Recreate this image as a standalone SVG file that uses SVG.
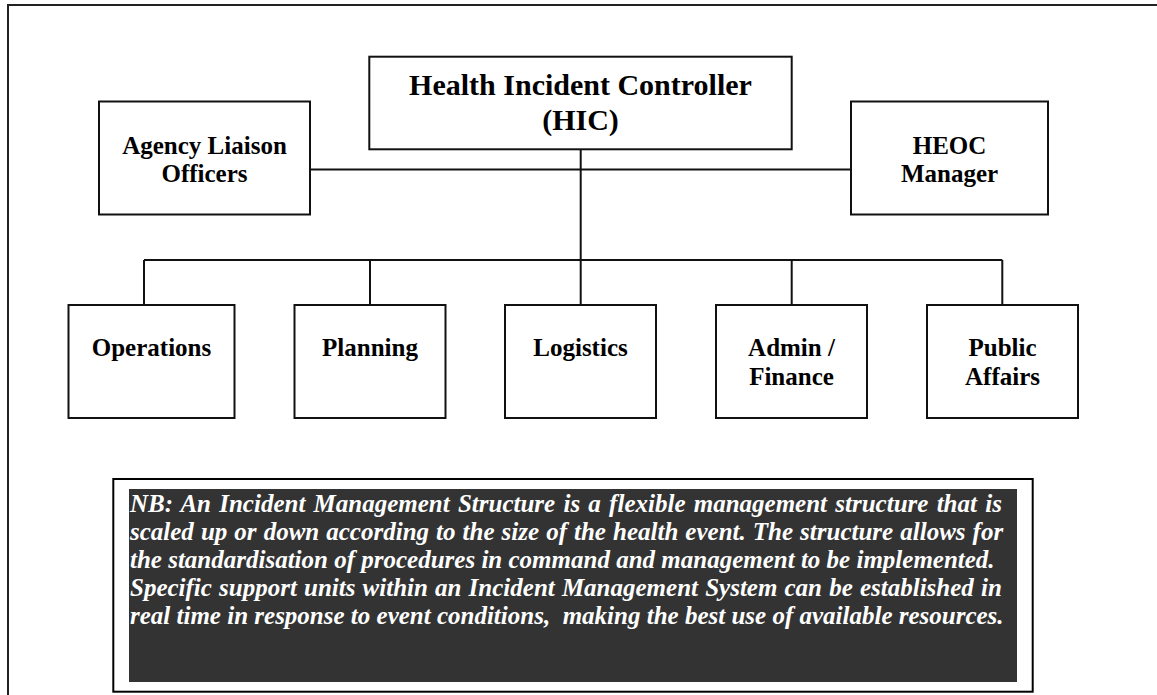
<svg xmlns="http://www.w3.org/2000/svg" width="1157" height="695" viewBox="0 0 1157 695">
<style>
.box{fill:#fff;stroke:#111;stroke-width:2}
.lbl{font-family:"Liberation Serif","Times New Roman",serif;font-weight:bold;font-size:25px;fill:#000;text-anchor:middle}
.big{font-size:30px}
.conn{stroke:#111;stroke-width:2;fill:none}
.nb{font-family:"Liberation Serif","Times New Roman",serif;font-weight:bold;font-style:italic;font-size:25px;fill:#fff}
</style>
<rect x="0" y="0" width="1157" height="695" fill="#fff"/>
<rect x="8" y="5" width="1170" height="710" fill="none" stroke="#222" stroke-width="2"/>
<g id="connectors">
<path class="conn" d="M310 169.5H851"/>
<path class="conn" d="M580.7 149V305"/>
<path class="conn" d="M144 260H1002.3"/>
<path class="conn" d="M144 260V305M370 260V305M791.7 260V305M1002.3 260V305"/>
</g>
<g id="hic">
<rect class="box" x="369.3" y="56.7" width="422.4" height="92.6"/>
<text class="lbl big" x="580.5" y="95">Health Incident Controller</text>
<text class="lbl big" x="580.5" y="130">(HIC)</text>
</g>
<g id="agency">
<rect class="box" x="99" y="101.5" width="211" height="113"/>
<text class="lbl" x="204.5" y="153.5">Agency Liaison</text>
<text class="lbl" x="204.5" y="182">Officers</text>
</g>
<g id="heoc">
<rect class="box" x="851" y="101.5" width="197" height="113"/>
<text class="lbl" x="949.5" y="153.5">HEOC</text>
<text class="lbl" x="949.5" y="182">Manager</text>
</g>
<g id="operations">
<rect class="box" x="68.5" y="305" width="166" height="113"/>
<text class="lbl" x="151.5" y="356">Operations</text>
</g>
<g id="planning">
<rect class="box" x="294.5" y="305" width="151" height="113"/>
<text class="lbl" x="370" y="356">Planning</text>
</g>
<g id="logistics">
<rect class="box" x="505" y="305" width="151" height="113"/>
<text class="lbl" x="580.5" y="356">Logistics</text>
</g>
<g id="admin">
<rect class="box" x="716" y="305" width="151" height="113"/>
<text class="lbl" x="791.5" y="356">Admin /</text>
<text class="lbl" x="791.5" y="385">Finance</text>
</g>
<g id="public">
<rect class="box" x="927" y="305" width="151" height="113"/>
<text class="lbl" x="1002.5" y="356">Public</text>
<text class="lbl" x="1002.5" y="385">Affairs</text>
</g>
<g id="note">
<rect x="113.3" y="479" width="919.4" height="212.7" fill="#fff" stroke="#000" stroke-width="2"/>
<rect x="129" y="489" width="888" height="193" fill="#333"/>
<text class="nb" x="130" y="512" word-spacing="2">NB: An Incident Management Structure is a flexible management structure that is</text>
<text class="nb" x="130" y="540" word-spacing="0.8">scaled up or down according to the size of the health event. The structure allows for</text>
<text class="nb" x="130" y="568">the standardisation of procedures in command and management to be implemented.</text>
<text class="nb" x="130" y="596" word-spacing="0.9">Specific support units within an Incident Management System can be established in</text>
<text class="nb" x="130" y="624">real time in response to event conditions,&#160; making the best use of available resources.</text>
</g>
</svg>
